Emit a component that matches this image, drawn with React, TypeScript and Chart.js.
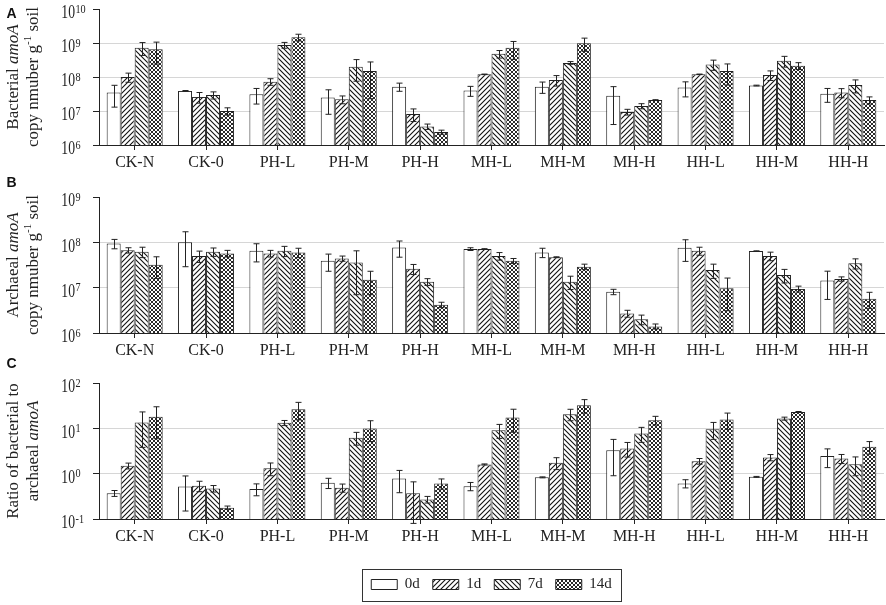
import { useEffect, useRef } from 'react';
import { Chart, registerables } from 'chart.js';

Chart.register(...registerables);

const SERIF = '"Liberation Serif", "Times New Roman", serif';
Chart.defaults.font.family = SERIF;

const categories = ['CK-N', 'CK-0', 'PH-L', 'PH-M', 'PH-H', 'MH-L', 'MH-M', 'MH-H', 'HH-L', 'HH-M', 'HH-H'];
const days = ['0d', '1d', '7d', '14d'];

// A: bacterial amoA copies per g soil (mean, sd)
const bacterial0d = [3.5e7, 3.9e7, 3.1e7, 2.5e7, 5.2e7, 4.0e7, 5.2e7, 2.8e7, 4.9e7, 5.6e7, 3.2e7];
const bacterial1d = [1.0e8, 2.6e7, 7.3e7, 2.2e7, 8.2e6, 1.2e8, 8.2e7, 9.4e6, 1.2e8, 1.15e8, 3.5e7];
const bacterial7d = [7.3e8, 2.95e7, 8.7e8, 2.0e8, 3.5e6, 4.8e8, 2.6e8, 1.4e7, 2.35e8, 3.0e8, 5.8e7];
const bacterial14d = [6.5e8, 1.0e7, 1.48e9, 1.5e8, 2.4e6, 7.2e8, 9.8e8, 2.1e7, 1.5e8, 2.15e8, 2.1e7];
const bacterialSd0d = [2.2e7, 1e6, 1.5e7, 1.7e7, 1.4e7, 1.3e7, 1.9e7, 2.4e7, 2.3e7, 1.5e6, 1.4e7];
const bacterialSd1d = [3.0e7, 9e6, 1.6e7, 5.7e6, 3.3e6, 2e6, 2.8e7, 1.8e6, 2e6, 3.6e7, 1.05e7];
const bacterialSd7d = [3.0e8, 7e6, 1.7e8, 1.25e8, 6.3e5, 1.2e8, 2.4e7, 2.4e6, 7.8e7, 1.05e8, 2.4e7];
const bacterialSd14d = [4.1e8, 2.4e6, 3.3e8, 1.27e8, 3.3e5, 3.9e8, 4.1e8, 5e5, 9.2e7, 4.9e7, 5e6];

// B: archaeal amoA copies per g soil
const archaeal0d = [9.4e7, 1.0e8, 6.5e7, 3.9e7, 7.7e7, 7.1e7, 6.0e7, 8.1e6, 7.6e7, 6.4e7, 1.43e7];
const archaeal1d = [6.7e7, 5.0e7, 5.7e7, 4.4e7, 2.6e7, 7.1e7, 4.7e7, 2.7e6, 6.5e7, 5.0e7, 1.56e7];
const archaeal7d = [6.2e7, 6.2e7, 6.5e7, 3.6e7, 1.35e7, 5.0e7, 1.35e7, 2.0e6, 2.45e7, 1.9e7, 3.45e7];
const archaeal14d = [3.2e7, 5.7e7, 6.0e7, 1.5e7, 4.2e6, 3.9e7, 2.9e7, 1.4e6, 9.7e6, 9.4e6, 5.7e6];
const archaealSd0d = [2.2e7, 7.1e7, 2.8e7, 1.6e7, 3.0e7, 5e6, 1.4e7, 1.1e6, 3.8e7, 1e6, 8.8e6];
const archaealSd1d = [9e6, 1.4e7, 9.5e6, 5.8e6, 6.5e6, 1.5e6, 1e6, 4.7e5, 1.3e7, 1.07e7, 1.7e6];
const archaealSd7d = [1.6e7, 1.3e7, 1.65e7, 2.9e7, 2.3e6, 9.5e6, 4.4e6, 4.8e5, 8.5e6, 6.3e6, 8.7e6];
const archaealSd14d = [1.6e7, 9.5e6, 1.4e7, 8e6, 5.7e5, 5e6, 4e6, 1.8e5, 6.6e6, 1.4e6, 2.2e6];

// C: ratio bacterial / archaeal
const ratio0d = [0.37, 0.52, 0.46, 0.63, 0.78, 0.53, 0.83, 3.3, 0.61, 0.85, 2.44];
const ratio1d = [1.49, 0.54, 1.31, 0.49, 0.37, 1.6, 1.74, 3.6, 1.89, 2.28, 2.16];
const ratio7d = [13.4, 0.47, 13.2, 6.2, 0.27, 9.1, 20.5, 7.7, 9.6, 16.4, 1.62];
const ratio14d = [17.9, 0.178, 26.4, 9.9, 0.61, 17.3, 32.3, 15.1, 15.6, 23, 3.9];
const ratioSd0d = [0.055, 0.37, 0.135, 0.16, 0.4, 0.11, 0.02, 2.4, 0.125, 0.02, 1.08];
const ratioSd1d = [0.22, 0.14, 0.41, 0.1, 0.29, 0.04, 0.51, 1.28, 0.27, 0.36, 0.49];
const ratioSd7d = [9.6, 0.077, 1.7, 1.95, 0.045, 3.1, 5.8, 2.8, 3.9, 1.25, 0.72];
const ratioSd14d = [12, 0.015, 11, 4.8, 0.155, 9.1, 10.7, 3.3, 6.1, 0.5, 1.2];

type Seg = { text: string; italic?: boolean; sup?: boolean };

type Panel = {
  letter: string;
  letterY: number;
  top: number;
  height: number;
  padTop: number;
  padBottom: number;
  xHeight: number;
  min: number;
  max: number;
  values: number[][];
  sd: number[][];
  title: Seg[][];
  legend?: boolean;
};

const copyLine: Seg[] = [{ text: 'copy nmuber g' }, { text: '-1', sup: true }, { text: ' soil' }];

const panels: Panel[] = [
  {
    letter: 'A', letterY: 14, top: 0, height: 172, padTop: 9, padBottom: 0, xHeight: 27,
    min: 1e6, max: 1e10,
    values: [bacterial0d, bacterial1d, bacterial7d, bacterial14d],
    sd: [bacterialSd0d, bacterialSd1d, bacterialSd7d, bacterialSd14d],
    title: [[{ text: 'Bacterial ' }, { text: 'amoA', italic: true }], copyLine],
  },
  {
    letter: 'B', letterY: 9, top: 174, height: 181, padTop: 23, padBottom: 0, xHeight: 22,
    min: 1e6, max: 1e9,
    values: [archaeal0d, archaeal1d, archaeal7d, archaeal14d],
    sd: [archaealSd0d, archaealSd1d, archaealSd7d, archaealSd14d],
    title: [[{ text: 'Archaeal ' }, { text: 'amoA', italic: true }], copyLine],
  },
  {
    letter: 'C', letterY: 9, top: 355, height: 250, padTop: 28, padBottom: 3, xHeight: 45,
    min: 0.1, max: 100,
    values: [ratio0d, ratio1d, ratio7d, ratio14d],
    sd: [ratioSd0d, ratioSd1d, ratioSd7d, ratioSd14d],
    title: [[{ text: 'Ratio of bacterial to' }], [{ text: 'archaeal ' }, { text: 'amoA', italic: true }]],
    legend: true,
  },
];

// hatch fills for the bars
function hatch(kind: 'fwd' | 'back' | 'cross'): CanvasPattern | string {
  const s = kind === 'cross' ? 4 : 5;
  const c = document.createElement('canvas');
  c.width = s;
  c.height = s;
  const g = c.getContext('2d');
  if (!g) return '#fff';
  g.fillStyle = '#fff';
  g.fillRect(0, 0, s, s);
  g.strokeStyle = '#111';
  g.lineWidth = kind === 'cross' ? 0.9 : 1.1;
  g.beginPath();
  if (kind !== 'back') {
    g.moveTo(-1, s + 1); g.lineTo(s + 1, -1);
    g.moveTo(-1, 1); g.lineTo(1, -1);
    g.moveTo(s - 1, s + 1); g.lineTo(s + 1, s - 1);
  }
  if (kind !== 'fwd') {
    g.moveTo(-1, -1); g.lineTo(s + 1, s + 1);
    g.moveTo(s - 1, -1); g.lineTo(s + 1, 1);
    g.moveTo(-1, s - 1); g.lineTo(1, s + 1);
  }
  g.stroke();
  return g.createPattern(c, 'repeat') || '#fff';
}

function segFont(seg: Seg, size: number) {
  return `${seg.italic ? 'italic ' : ''}${seg.sup ? Math.round(size * 0.65) : size}px ${SERIF}`;
}

function drawRich(ctx: CanvasRenderingContext2D, segs: Seg[], size: number) {
  let total = 0;
  const widths = segs.map((s) => {
    ctx.font = segFont(s, size);
    const w = ctx.measureText(s.text).width;
    total += w;
    return w;
  });
  let x = -total / 2;
  segs.forEach((s, i) => {
    ctx.font = segFont(s, size);
    ctx.fillText(s.text, x, s.sup ? -size * 0.35 : 0);
    x += widths[i];
  });
}

function PanelChart({ panel }: { panel: Panel }) {
  const canvasRef = useRef<HTMLCanvasElement>(null);

  useEffect(() => {
    const canvas = canvasRef.current;
    if (!canvas) return;
    const context = canvas.getContext('2d');
    if (!context) return;

    const fills = ['#ffffff', hatch('fwd'), hatch('back'), hatch('cross')];
    const decades: number[] = [];
    for (let e = Math.round(Math.log10(panel.min)); e <= Math.round(Math.log10(panel.max)); e++) {
      decades.push(Math.pow(10, e));
    }

    const errorBars = {
      id: 'errorBars',
      afterDatasetsDraw(chart: Chart) {
        const { ctx, chartArea } = chart;
        const y = chart.scales.y;
        ctx.save();
        ctx.strokeStyle = '#222';
        ctx.lineWidth = 1;
        panel.sd.forEach((sds, i) => {
          chart.getDatasetMeta(i).data.forEach((bar, j) => {
            const v = panel.values[i][j];
            const e = sds[j];
            const x = Math.round(bar.x) + 0.5;
            const hi = y.getPixelForValue(v + e);
            const lo = v - e > 0 ? Math.min(y.getPixelForValue(v - e), chartArea.bottom + 6) : chartArea.bottom + 6;
            ctx.beginPath();
            ctx.moveTo(x, hi); ctx.lineTo(x, lo);
            ctx.moveTo(x - 3, hi); ctx.lineTo(x + 3, hi);
            ctx.moveTo(x - 3, lo); ctx.lineTo(x + 3, lo);
            ctx.stroke();
          });
        });
        ctx.restore();
      },
    };

    const axisText = {
      id: 'axisText',
      afterDraw(chart: Chart) {
        const { ctx, chartArea } = chart;
        const y = chart.scales.y;
        ctx.save();
        ctx.fillStyle = '#222';
        // decade labels: 10 with raised exponent
        decades.forEach((v) => {
          const py = y.getPixelForValue(v);
          const exp = Math.round(Math.log10(v));
          ctx.save();
          ctx.translate(75, py + 4.5);
          ctx.scale(0.76, 1);
          ctx.font = `18px ${SERIF}`;
          ctx.textAlign = 'right';
          ctx.textBaseline = 'middle';
          ctx.fillText('10', 0, 0);
          ctx.restore();
          ctx.save();
          ctx.translate(75.5, py + 0.5);
          ctx.scale(0.85, 1);
          ctx.font = `12px ${SERIF}`;
          ctx.textAlign = 'left';
          ctx.textBaseline = 'middle';
          ctx.fillText(String(exp), 0, 0);
          ctx.restore();
        });
        // axis title, two lines, rotated
        const cy = (chartArea.top + chartArea.bottom) / 2;
        [14, 34].forEach((lx, k) => {
          ctx.save();
          ctx.translate(lx, cy);
          ctx.rotate(-Math.PI / 2);
          ctx.textAlign = 'left';
          ctx.textBaseline = 'middle';
          drawRich(ctx, panel.title[k], 17);
          ctx.restore();
        });
        // panel letter
        ctx.font = `bold 14px "Liberation Sans", Arial, sans-serif`;
        ctx.textAlign = 'center';
        ctx.textBaseline = 'middle';
        ctx.fillStyle = '#111';
        ctx.fillText(panel.letter, 11.5, panel.letterY);
        ctx.restore();
      },
    };

    const legendFrame = {
      id: 'legendFrame',
      afterDraw(chart: Chart) {
        const lg = chart.legend as any;
        if (!panel.legend || !lg || !lg.legendHitBoxes || !lg.legendHitBoxes.length) return;
        const boxes = lg.legendHitBoxes as { left: number; top: number; width: number; height: number }[];
        const left = Math.min(...boxes.map((b) => b.left)) - 9;
        const right = Math.max(...boxes.map((b) => b.left + b.width)) + 9;
        const mid = boxes[0].top + boxes[0].height / 2;
        const { ctx } = chart;
        ctx.save();
        ctx.strokeStyle = '#333';
        ctx.lineWidth = 1;
        ctx.strokeRect(Math.round(left) + 0.5, Math.round(mid - 16) + 0.5, Math.round(right - left), 32);
        ctx.restore();
      },
    };

    const chart = new Chart(context, {
      type: 'bar',
      data: {
        labels: categories,
        datasets: days.map((d, i) => ({
          label: d,
          data: panel.values[i],
          backgroundColor: fills[i] as any,
          borderColor: '#222',
          borderWidth: 1,
          categoryPercentage: 0.785,
          barPercentage: 1,
        })),
      },
      options: {
        responsive: false,
        animation: false,
        layout: { padding: { top: panel.padTop, right: 2, left: 0, bottom: panel.padBottom } },
        plugins: {
          legend: {
            display: !!panel.legend,
            position: 'bottom',
            fullSize: false,
            labels: {
              boxWidth: 26,
              boxHeight: 10,
              padding: 13,
              color: '#222',
              font: { size: 15, family: SERIF },
            },
          },
          tooltip: { enabled: false },
        },
        scales: {
          x: {
            grid: { drawOnChartArea: false, offset: false, tickLength: 5, color: '#222' },
            border: { color: '#222' },
            ticks: { color: '#222', font: { size: 16 }, padding: 3, autoSkip: false, maxRotation: 0 },
            afterFit: (s: any) => { s.height = panel.xHeight; },
          },
          y: {
            type: 'logarithmic',
            min: panel.min,
            max: panel.max,
            afterBuildTicks: (s: any) => { s.ticks = decades.map((v) => ({ value: v })); },
            ticks: { display: false },
            grid: {
              color: (c: any) => (c.tick && c.tick.value >= panel.max ? 'rgba(0,0,0,0)' : '#d6d6d6'),
              tickColor: '#222',
              tickLength: 6,
            },
            border: { color: '#222' },
            afterFit: (s: any) => { s.width = 99; },
          },
        },
      },
      plugins: [errorBars, axisText, legendFrame],
    });

    return () => {
      chart.destroy();
    };
  }, [panel]);

  return <canvas ref={canvasRef} width={886} height={panel.height} />;
}

export default function App() {
  return (
    <div style={{ position: 'absolute', left: 0, top: 0, width: 886, height: 605, overflow: 'hidden', background: '#fff' }}>
      {panels.map((p) => (
        <div key={p.letter} style={{ position: 'absolute', left: 0, top: p.top }}>
          <PanelChart panel={p} />
        </div>
      ))}
    </div>
  );
}
